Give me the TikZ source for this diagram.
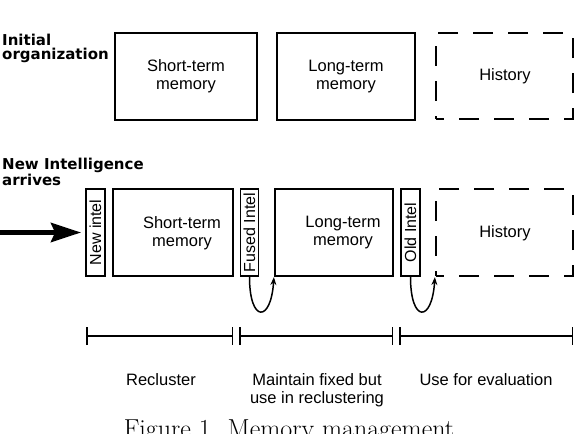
\documentclass[tikz,border=0pt]{standalone}
\usepackage{fontspec}
\setsansfont{Liberation Sans}
\newfontfamily\headfont{DejaVu Sans}
\usetikzlibrary{arrows.meta}
\begin{document}
\begin{tikzpicture}[x=1pt,y=-1pt,
  box/.style={draw, line width=2.2pt, inner sep=0pt, minimum height=87pt},
  hbox/.style={box, dash pattern=on 20pt off 15pt, dash phase=12pt},
  tagbox/.style={draw, line width=1.8pt, inner sep=0pt, minimum height=87pt},
  lbl/.style={font=\sffamily\fontsize{16.5}{18}\selectfont, align=center, inner sep=0pt},
  tagtxt/.style={font=\sffamily\fontsize{16}{18}\selectfont, inner sep=0pt, rotate=90},
  headtxt/.style={font=\headfont\bfseries\fontsize{15}{14}\selectfont, align=left, inner sep=0pt, anchor=base west},
  curvearrow/.style={line width=1.5pt, -{Stealth[length=8pt,width=6pt]}},
  tline/.style={line width=1.3pt, {Bar[width=18pt,line width=1.5pt]}-{Bar[width=18pt,line width=1.5pt]}},
  captxt/.style={font=\fontsize{26}{28}\selectfont\addfontfeatures{LetterSpace=8}, inner sep=0pt, anchor=base}
]
\useasboundingbox (0,0) rectangle (576,434);

% headings (anchor = baseline of last line)
\node[headtxt] (h1) at (2,59) {Initial\\organization};
\node[headtxt] (h2) at (2,185) {New Intelligence\\arrives};

% row 1
\node[box, minimum width=142pt] (st1) at (186,76.5) {};
\node[lbl] (st1t) at (186,76.5) {Short-term\\memory};
\node[box, minimum width=138pt] (lt1) at (346,76.5) {};
\node[lbl] (lt1t) at (346,76.5) {Long-term\\memory};
\node[hbox, minimum width=137pt, minimum height=86pt] (hi1) at (504.5,76) {};
\node[lbl] (hi1t) at (505,76) {History};

% row 2
\node[tagbox, minimum width=19pt] (ni) at (95.5,232.5) {};
\node[tagtxt] (nit) at (ni.center) {New intel};
\node[box, minimum width=120pt] (st2) at (173,232.5) {};
\node[lbl] (st2t) at (182,233) {Short-term\\memory};
\node[tagbox, minimum width=18pt] (fi) at (249.5,232.5) {};
\node[tagtxt] (fit) at (fi.center) {Fused Intel};
\node[box, minimum width=118pt] (lt2) at (334,232.5) {};
\node[lbl] (lt2t) at (343,233) {Long-term\\memory};
\node[tagbox, minimum width=19pt] (oi) at (410.5,232.5) {};
\node[tagtxt] (oit) at (oi.center) {Old Intel};
\node[hbox, minimum width=137pt] (hi2) at (504.5,232.5) {};
\node[lbl] (hi2t) at (505,233) {History};

% incoming arrow
\coordinate (src) at (0,232.5);
\draw[line width=5pt, -{Stealth[length=30pt,width=19pt,inset=4pt]}, shorten >=4pt] (src) -- (ni.west);

% recycle arrows
\draw[curvearrow] (fi.south) .. controls +(0,46) and +(-3,46) .. (lt2.south west);
\draw[curvearrow] (oi.south) .. controls +(0,46) and +(-3,46) .. (hi2.south west);

% timeline
\coordinate (t0) at (86,336);
\coordinate (t1) at (233,336);
\coordinate (t2) at (239,336);
\coordinate (t3) at (393,336);
\coordinate (t4) at (399,336);
\coordinate (t5) at (573,336);
\draw[tline] (t0) -- (t1);
\draw[tline] (t2) -- (t3);
\draw[tline] (t4) -- (t5);

\node[lbl, anchor=base] (l1) at (161,385) {Recluster};
\node[lbl, anchor=base] (l2) at (317,403) {Maintain fixed but\\use in reclustering};
\node[lbl, anchor=base] (l3) at (486,385) {Use for evaluation};

% caption (cut by the lower edge, as in the reference)
\node[captxt] (capt) at (289,437) {Figure 1. Memory management};
\end{tikzpicture}
\end{document}
